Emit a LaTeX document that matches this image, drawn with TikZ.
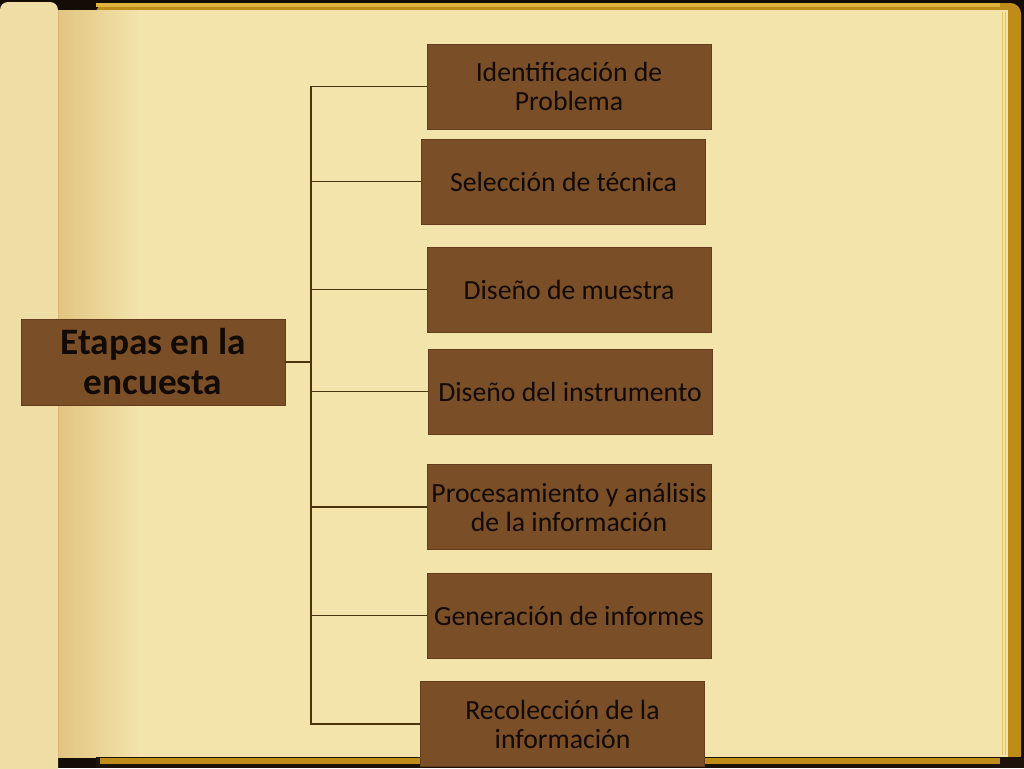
\documentclass[tikz,border=0pt]{standalone}
\usepackage{fontspec}
\setmainfont{Carlito}
\definecolor{parch}{RGB}{243,228,172}
\definecolor{parchdark}{RGB}{226,196,128}
\definecolor{leftpage}{RGB}{238,222,166}
\definecolor{gold}{RGB}{190,140,25}
\definecolor{goldlight}{RGB}{222,180,60}
\definecolor{wood}{RGB}{122,78,38}
\definecolor{wooddark}{RGB}{100,62,28}
\definecolor{linebrown}{RGB}{74,52,14}
\definecolor{inkdark}{RGB}{18,10,4}
\tikzset{
  stage/.style={draw=wooddark, line width=0.6pt, fill=wood, minimum width=213pt, minimum height=63.75pt,
    align=center, text=inkdark, font=\fontsize{20.8}{21.75}\selectfont, inner sep=1pt},
  mainbox/.style={stage, minimum width=198pt, minimum height=64.5pt,
    font=\fontsize{28}{30}\selectfont\bfseries},
  conn/.style={draw=linebrown, line width=1.4pt}
}
\begin{document}
\begin{tikzpicture}[x=0.75pt,y=-0.75pt]
\useasboundingbox (0,0) rectangle (1024,768);
% background
\fill[black!90!brown] (0,0) rectangle (1024,768);
\fill[gold, rounded corners=8pt] (96,3) rectangle (1021,766);
\fill[goldlight] (96,3) rectangle (1000,7);
\fill[parch] (0,10) rectangle (1008,757);
\fill[leftpage, rounded corners=6pt] (0,2) rectangle (58,780);
\shade[left color=parchdark, right color=parch] (58,10) rectangle (140,757);
\draw[parchdark!80!brown, line width=0.5pt] (58,10) -- (58,757);
\draw[goldlight!70!parch, line width=0.6pt] (1002,12) -- (1002,755);
\draw[goldlight!70!parch, line width=0.6pt] (1005,12) -- (1005,755);
\fill[black!85!brown] (96,757) rectangle (1024,768);
\fill[gold] (100,758) rectangle (1000,764);
% nodes
\node[mainbox] (main) at (153,362) {Etapas en la\\encuesta};
\node[stage] (b1) at (569,86.5) {Identificación de\\Problema};
\node[stage] (b2) at (563.5,181.5) {Selección de técnica};
\node[stage] (b3) at (569,289.5) {Diseño de muestra};
\node[stage] (b4) at (570,391.5) {Diseño del instrumento};
\node[stage] (b5) at (569,507) {Procesamiento y análisis\\de la información};
\node[stage] (b6) at (569,615.5) {Generación de informes};
\node[stage] (b7) at (562.5,724) {Recolección de la\\información};
\coordinate (bus) at (311,362);
% connectors
\draw[conn] (main.east) -- (bus);
\foreach \b in {b1,b2,b3,b4,b5,b6,b7}{
  \draw[conn] (bus) |- (\b.west);
}
\end{tikzpicture}
\end{document}
